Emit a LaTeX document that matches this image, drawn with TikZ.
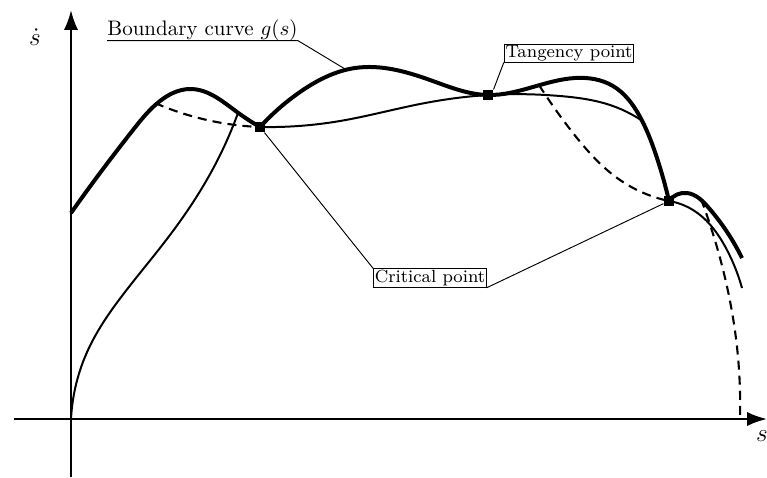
\documentclass[tikz,border=0pt]{standalone}
\usetikzlibrary{arrows.meta,hobby}
\begin{document}
\begin{tikzpicture}[x=0.4762pt,y=-0.4762pt,
  axis/.style={line width=1.1pt,-{Latex[length=9.5pt,width=6.8pt]}},
  bound/.style={line width=1.9pt,line join=round,line cap=butt,use Hobby shortcut},
  traj/.style={line width=0.95pt,use Hobby shortcut},
  dashtraj/.style={line width=1pt,dash pattern=on 4.3pt off 2.9pt,use Hobby shortcut},
  leader/.style={line width=0.45pt},
  sqmark/.style={fill=black,minimum size=4.9pt,inner sep=0pt,draw=none},
  lbl/.style={draw,line width=0.45pt,inner sep=0.6pt,font=\fontsize{8.4}{10}\selectfont}]
\useasboundingbox (0,0) rectangle (767,477);

% axes
\coordinate (O) at (71,419);
\coordinate (ybot) at (71,477);
\coordinate (ytop) at (71,10);
\coordinate (xl) at (14,419);
\coordinate (xr) at (767,419);
\draw[axis] (ybot) -- (ytop);
\draw[axis] (xl) -- (xr);
\node[font=\large] (sdot) at (35,37) {$\dot s$};
\node[font=\large] (slab) at (762,436) {$s$};

% key points
\coordinate (c1) at (260,127);
\coordinate (tp) at (488,95);
\coordinate (c2) at (669,201);

% boundary curve (thick)
\draw[bound] (71,213) .. (100,173) .. (133,130) .. (160,101) .. (190,89) .. (237,112) .. (c1);
\draw[bound] (c1) .. (300,92) .. (355,68) .. (430,80) .. (tp) .. (575,78) .. (613,86) .. (639,115) .. (656,155) .. (c2);
\draw[bound] (c2) .. (687,193) .. (708,207) .. (742,258);

% thin trajectories
\draw[traj] (O) .. (88,350) .. (125,292) .. (170,235) .. (215,165) .. (238,113);
\draw[traj] (c1) .. (340,121) .. (420,104) .. (tp) .. (560,96) .. (610,105) .. (641,120);
\draw[traj] (c2) .. (693,210) .. (727,250) .. (742,288);

% dashed trajectories
\draw[dashtraj] (155,103) .. (207,120) .. (c1);
\draw[dashtraj] (539,85) .. (573,133) .. (620,180) .. (c2);
\draw[dashtraj] (701,199) .. (720,258) .. (737,347) .. (740,419);

% labels
\node[inner sep=0pt,anchor=base west] (bl) at (107,35) {Boundary curve $g(s)$};
\coordinate (gpt) at (345,69);
\draw[leader] (bl.south west) -- (bl.south east) -- (gpt);

\node[lbl] (tl) at (569,53) {Tangency point};
\node[lbl] (cl) at (430,278) {Critical point};

% markers
\node[sqmark] (m1) at (c1) {};
\node[sqmark] (mt) at (tp) {};
\node[sqmark] (m2) at (c2) {};

\draw[leader] (tl.south west) -- (mt.north east);
\draw[leader] (cl.north west) -- (m1);
\draw[leader] (cl.south east) -- (m2);
\end{tikzpicture}
\end{document}
